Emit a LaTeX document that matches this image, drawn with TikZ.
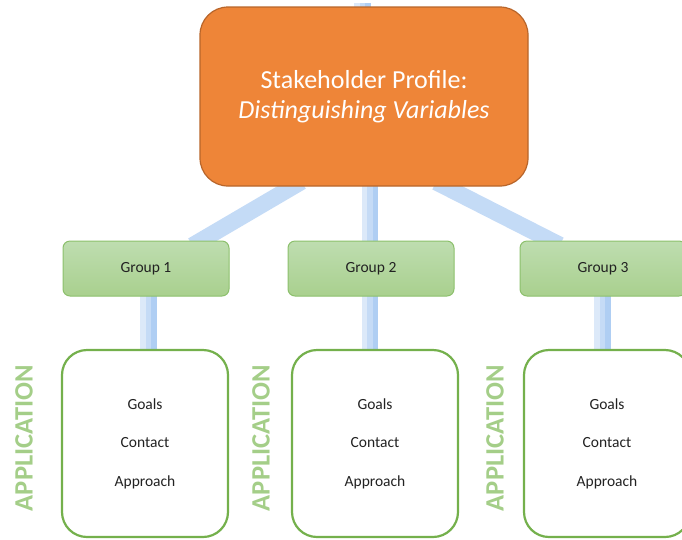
\documentclass[tikz,border=0pt]{standalone}
\usepackage{fontspec}
\setmainfont{Carlito}
\usetikzlibrary{backgrounds,calc}
\definecolor{orangefill}{HTML}{EE8538}
\definecolor{orangeedge}{HTML}{B8652A}
\definecolor{greentop}{HTML}{BEDDB0}
\definecolor{greenbot}{HTML}{A9D08E}
\definecolor{greenedge}{HTML}{8CC06C}
\definecolor{boxedge}{HTML}{74B04C}
\definecolor{connflat}{HTML}{C4DBF6}
\definecolor{conndark}{HTML}{AFCEF3}
\definecolor{connmid}{HTML}{C5DBF6}
\definecolor{connlight}{HTML}{DCE9F9}
\definecolor{applabel}{HTML}{A4CE88}
\definecolor{txt}{HTML}{222222}
\tikzset{
  topbox/.style={draw=orangeedge, line width=1.2pt, fill=orangefill, rounded corners=28pt,
    minimum width=328pt, minimum height=179pt, inner sep=0pt, align=center, text=white,
    font=\fontsize{26}{30}\selectfont},
  groupbox/.style={draw=greenedge, line width=1pt, top color=greentop, bottom color=greenbot,
    rounded corners=7pt, minimum width=166pt, minimum height=55pt, inner sep=0pt,
    text=txt, font=\fontsize{15.5}{18}\selectfont},
  itembox/.style={draw=boxedge, line width=2.2pt, fill=white, rounded corners=25pt,
    minimum width=166pt, minimum height=187pt, inner sep=0pt, align=center,
    text=txt, font=\fontsize{15.5}{38.5}\selectfont},
  applbl/.style={rotate=90, text=applabel, inner sep=0pt,
    font=\fontsize{26.5}{30}\selectfont\bfseries},
  conn/.style={line width=16.5pt, draw=connflat, shorten <=-10pt, shorten >=-10pt},
  vconn/.style={line width=16.5pt, draw=conndark, shorten <=-10pt, shorten >=-10pt,
    postaction={draw=connmid, line width=11pt, transform canvas={xshift=-2.75pt}},
    postaction={draw=connlight, line width=5.5pt, transform canvas={xshift=-5.5pt}}},
}
\begin{document}
\begin{tikzpicture}[x=1pt,y=-1pt]
\useasboundingbox (0,0) rectangle (682,539);
\node[topbox] (top) at (364,96.5) {Stakeholder Profile:\\\textit{Distinguishing Variables}};
\node[groupbox] (g1) at (146,268.5) {Group 1};
\node[groupbox] (g2) at (371,268.5) {Group 2};
\node[groupbox] (g3) at (603,268.5) {Group 3};
\node[itembox] (b1) at (145,443.5) {Goals\\Contact\\Approach};
\node[itembox] (b2) at (375,443.5) {Goals\\Contact\\Approach};
\node[itembox] (b3) at (607,443.5) {Goals\\Contact\\Approach};
\node[applbl] (a1) at (24,438) {APPLICATION};
\node[applbl] (a2) at (261,438) {APPLICATION};
\node[applbl] (a3) at (495,438) {APPLICATION};
\coordinate (stub) at ($(top.north)+(-1.5,-3)$);
\begin{scope}[on background layer]
  \draw[vconn, shorten >=0pt] ($(top.north)+(-1.5,0)$) -- (stub);
  \draw[conn] ($(top.south)+(-71,0)$) -- ($(g1.north)+(55,0)$);
  \draw[vconn] ($(top.south)+(6,0)$) -- ($(g2.north)+(-1,0)$);
  \draw[conn] ($(top.south)+(81,0)$) -- ($(g3.north)+(-52,0)$);
  \draw[vconn] ($(g1.south)+(2.5,0)$) -- ($(b1.north)+(3.5,0)$);
  \draw[vconn] ($(g2.south)+(-1,0)$) -- ($(b2.north)+(-5,0)$);
  \draw[vconn] ($(g3.south)+(-0.5,0)$) -- ($(b3.north)+(-4.5,0)$);
\end{scope}
\end{tikzpicture}
\end{document}
